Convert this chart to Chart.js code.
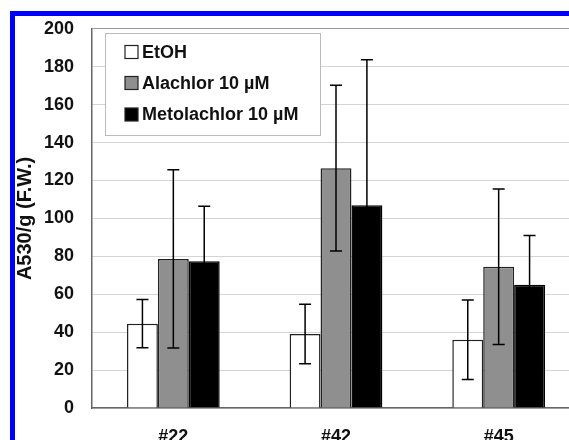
<!DOCTYPE html>
<html>
<head>
<meta charset="utf-8">
<script src="https://cdn.jsdelivr.net/npm/chart.js@4/dist/chart.umd.min.js"></script>
<style>
html,body{margin:0;padding:0;background:#fff;overflow:hidden;width:569px;height:440px;}
canvas{display:block;}
</style>
</head>
<body>
<canvas id="c" width="590" height="460"></canvas>
<script>
const categories = ['#22', '#42', '#45'];
const seriesLabels = ['EtOH', 'Alachlor 10 \u00b5M', 'Metolachlor 10 \u00b5M'];
const etoh = [44.5, 39, 36];
const etohErr = [12.7, 15.7, 21];
const alachlor = [78.6, 126.5, 74.5];
const alachlorErr = [47, 43.7, 41];
const metolachlor = [77.4, 107, 65];
const metolachlorErr = [29, 76.7, 26];
const yTicks = [0, 20, 40, 60, 80, 100, 120, 140, 160, 180, 200];
const yTitle = 'A530/g (F.W.)';

const FONT = '"Liberation Sans", Arial, sans-serif';

const errorBars = {
  id: 'errorBars',
  afterDatasetsDraw(chart) {
    const ctx = chart.ctx;
    const y = chart.scales.y;
    chart.data.datasets.forEach((ds, di) => {
      const meta = chart.getDatasetMeta(di);
      meta.data.forEach((bar, i) => {
        const v = ds.data[i], e = ds.errors[i];
        const yt = y.getPixelForValue(v + e);
        const yb = y.getPixelForValue(v - e);
        ctx.save();
        ctx.strokeStyle = '#000';
        ctx.lineWidth = 1.5;
        ctx.beginPath();
        ctx.moveTo(bar.x, yt); ctx.lineTo(bar.x, yb);
        ctx.moveTo(bar.x - 6, yt); ctx.lineTo(bar.x + 6, yt);
        ctx.moveTo(bar.x - 6, yb); ctx.lineTo(bar.x + 6, yb);
        ctx.stroke();
        ctx.restore();
      });
    });
  }
};

const boxLegend = {
  id: 'boxLegend',
  afterDraw(chart) {
    const ctx = chart.ctx;
    ctx.save();
    ctx.fillStyle = '#fff';
    ctx.strokeStyle = '#bbbbbb';
    ctx.lineWidth = 1;
    ctx.fillRect(105, 33, 215, 102);
    ctx.strokeRect(105.5, 33.5, 215, 102);
    const rows = [52, 83, 114.5];
    chart.data.datasets.forEach((ds, i) => {
      const cy = rows[i];
      ctx.fillStyle = ds.backgroundColor;
      ctx.fillRect(125, cy - 6.5, 13, 13);
      ctx.strokeStyle = '#222';
      ctx.lineWidth = 1.2;
      ctx.strokeRect(125, cy - 6.5, 13, 13);
      ctx.fillStyle = '#111';
      ctx.font = 'bold 18px ' + FONT;
      ctx.textBaseline = 'middle';
      ctx.textAlign = 'left';
      ctx.fillText(ds.label, 142, cy + 1);
    });
    ctx.restore();
  }
};

const blueFrame = {
  id: 'blueFrame',
  afterDraw(chart) {
    const ctx = chart.ctx;
    ctx.save();
    ctx.fillStyle = '#0000ff';
    ctx.fillRect(10, 11, chart.width, 5);
    ctx.fillRect(10, 11, 5, chart.height);
    ctx.restore();
  }
};

new Chart(document.getElementById('c'), {
  type: 'bar',
  data: {
    labels: categories,
    datasets: [
      { label: seriesLabels[0], data: etoh, errors: etohErr, backgroundColor: '#ffffff', borderColor: '#222', borderWidth: 1.5 },
      { label: seriesLabels[1], data: alachlor, errors: alachlorErr, backgroundColor: '#8f8f8f', borderColor: '#222', borderWidth: 1.5 },
      { label: seriesLabels[2], data: metolachlor, errors: metolachlorErr, backgroundColor: '#000000', borderColor: '#000', borderWidth: 1.5 }
    ]
  },
  options: {
    responsive: false,
    animation: false,
    devicePixelRatio: 1,
    layout: { padding: { top: 21, right: 10, left: 0, bottom: 0 } },
    plugins: { legend: { display: false }, tooltip: { enabled: false } },
    datasets: { bar: { barPercentage: 1, categoryPercentage: 0.57 } },
    scales: {
      x: {
        grid: { display: false, drawTicks: false },
        border: { color: '#666', width: 1.5 },
        ticks: { color: '#111', font: { family: FONT, size: 18, weight: 'bold' }, padding: 18 },
        afterFit(s) { s.height = 460 - 408; }
      },
      y: {
        min: 0, max: 200,
        afterBuildTicks(s) { s.ticks = yTicks.map(v => ({ value: v })); },
        grid: {
          drawTicks: false,
          color: ctx => ctx.tick && ctx.tick.value === 200 ? '#999999' : '#d4d4d4',
          lineWidth: 1
        },
        border: { color: '#666', width: 1.5 },
        ticks: { color: '#111', font: { family: FONT, size: 18, weight: 'bold' }, padding: 18 },
        title: { display: true, text: yTitle, color: '#111', font: { family: FONT, size: 20, weight: 'bold' }, padding: { top: 13, bottom: 0 } },
        afterFit(s) { s.width = 92; }
      }
    }
  },
  plugins: [errorBars, boxLegend, blueFrame]
});
</script>
</body>
</html>
